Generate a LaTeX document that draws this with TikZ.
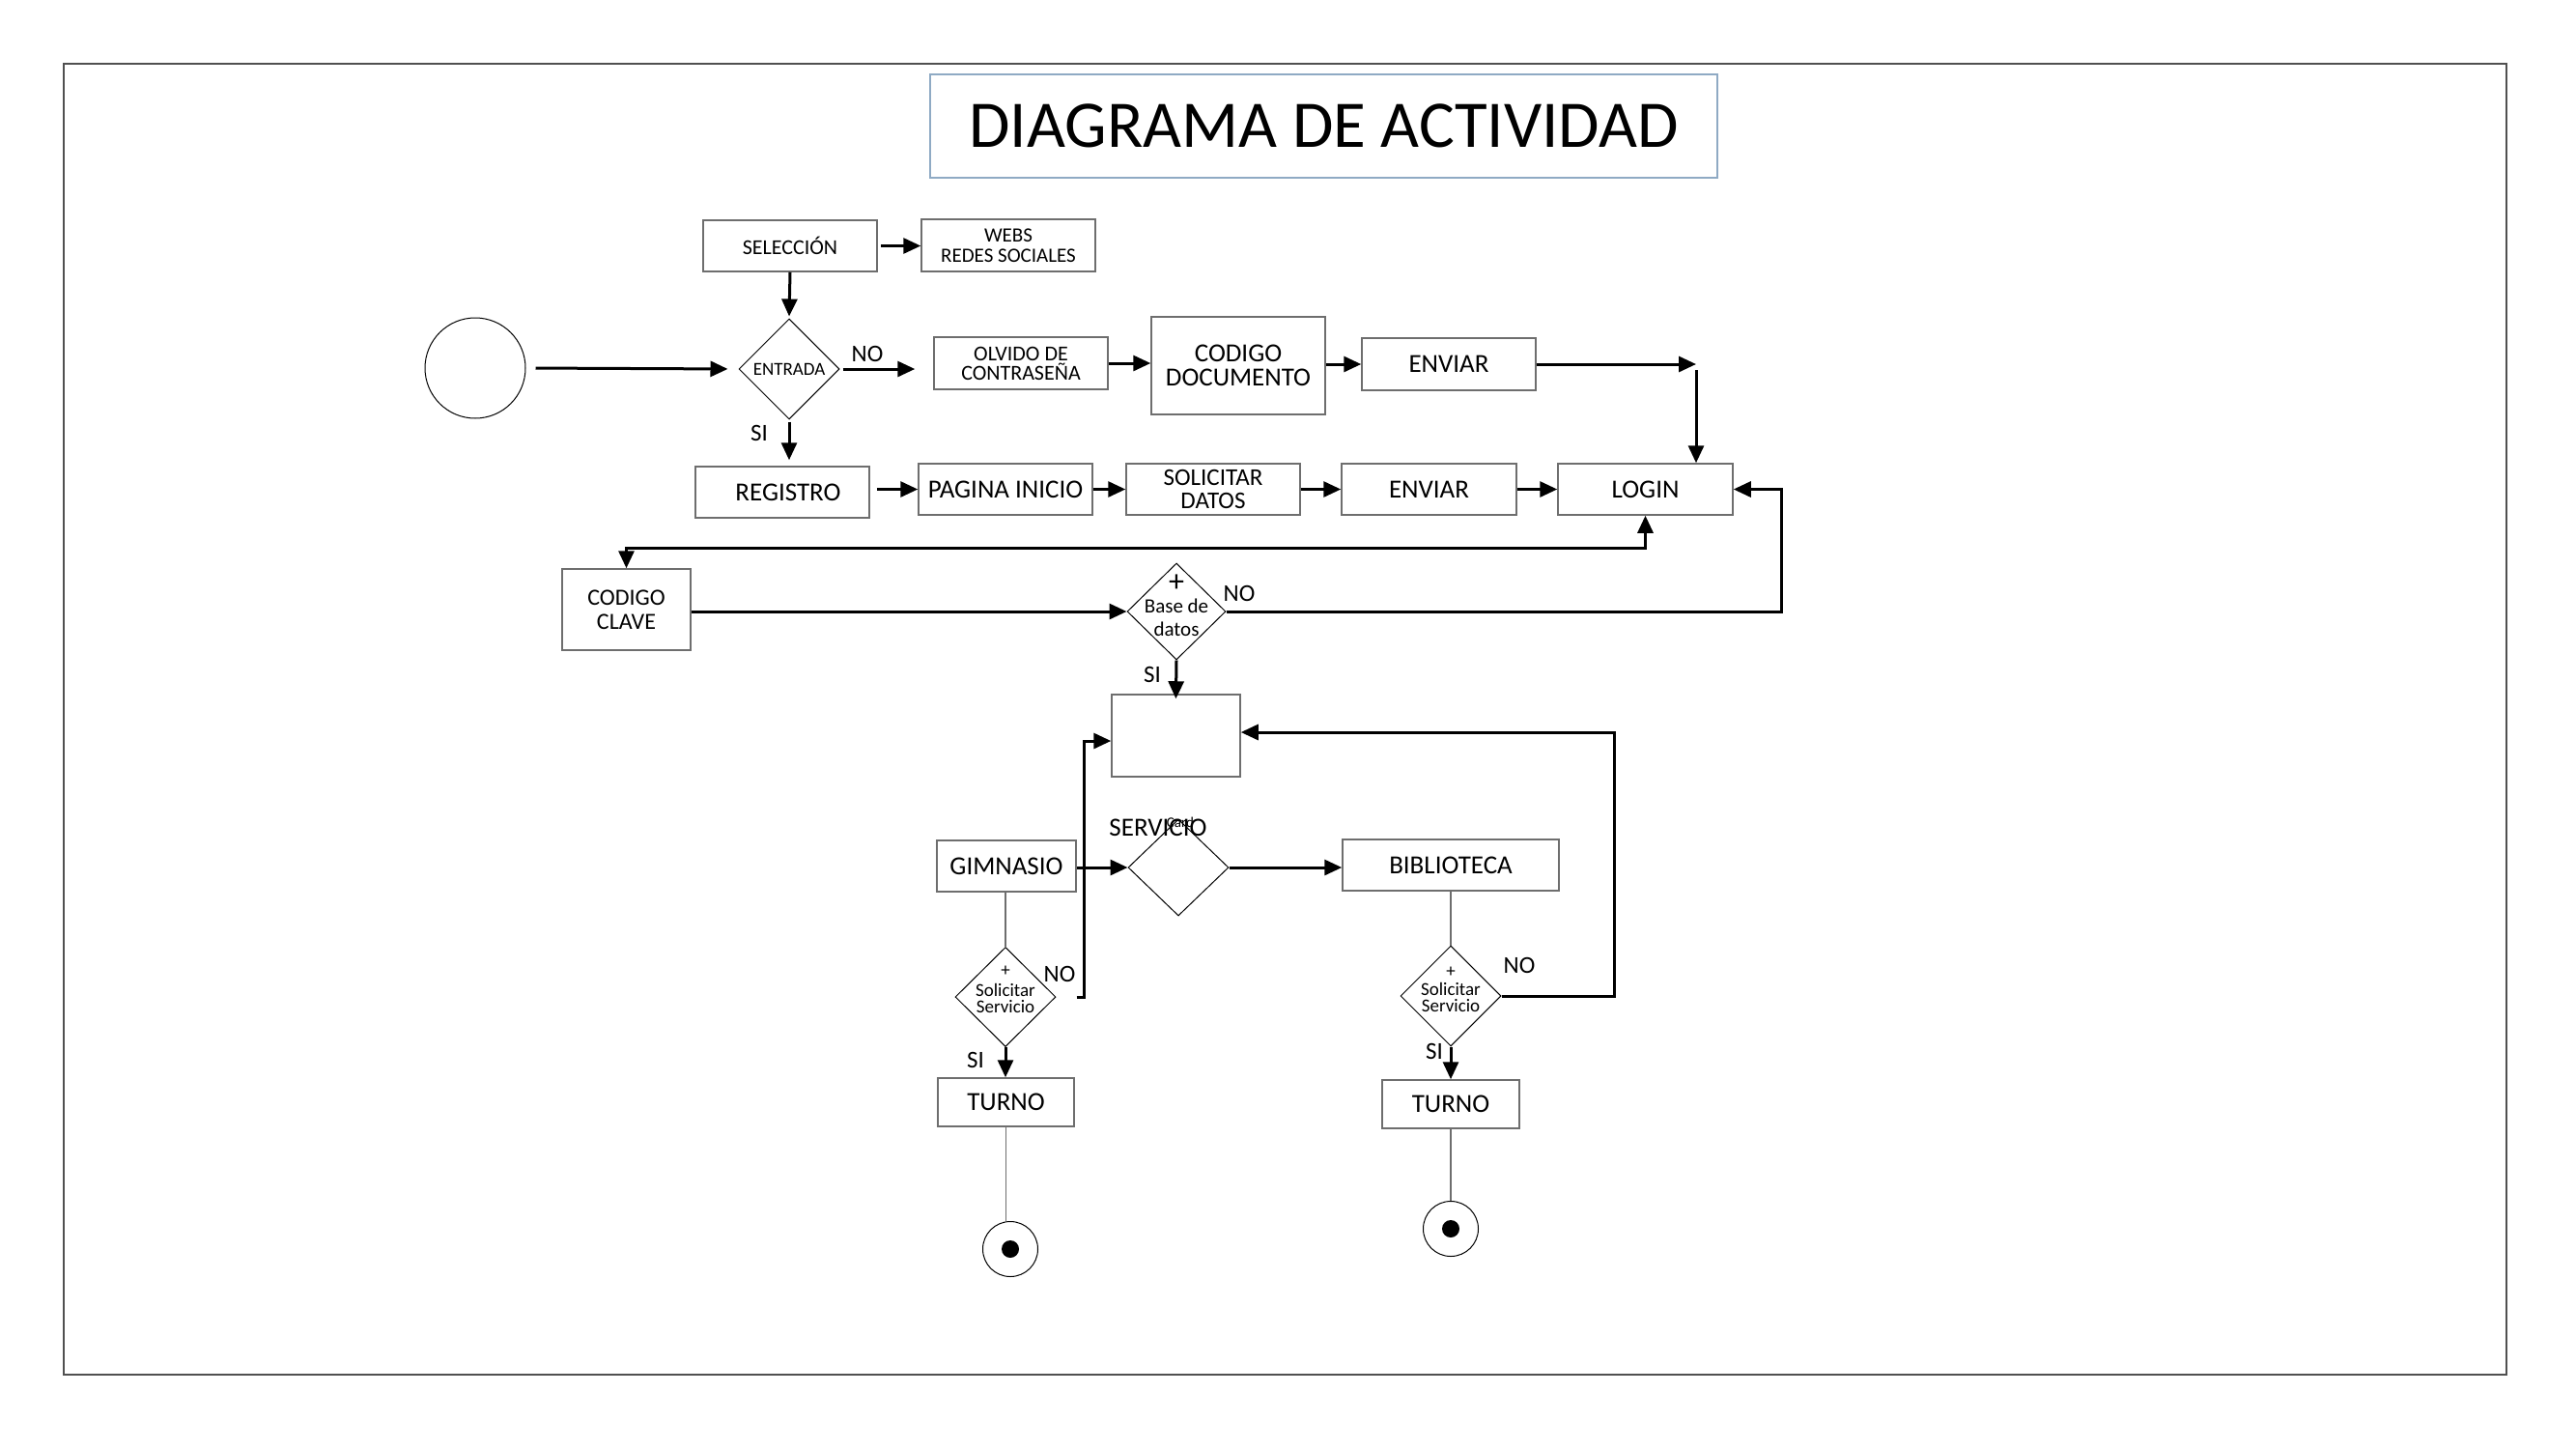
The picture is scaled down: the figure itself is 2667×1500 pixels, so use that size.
\documentclass[tikz,border=0pt]{standalone}
\usepackage{fontspec}
\setmainfont{Carlito}
\usetikzlibrary{arrows.meta,shapes.geometric,calc}
\definecolor{boxgray}{HTML}{6E6E6E}
\definecolor{framegray}{HTML}{505050}
\definecolor{titleblue}{HTML}{8FAAC4}
\begin{document}
\begin{tikzpicture}[x=1pt,y=-1pt,
 box/.style={draw=boxgray,line width=1.5pt,fill=white,inner sep=0pt,align=center,font=\fontsize{27}{25}\selectfont},
 dia/.style={diamond,draw=black,line width=1pt,inner sep=0pt,fill=white},
 arr/.style={line width=3pt,-{Triangle[length=18pt,width=16pt]}},
 conn/.style={draw=boxgray,line width=1.5pt},
 lbl/.style={inner sep=0pt,font=\fontsize{25}{25}\selectfont},
 dtxt/.style={inner sep=0pt,align=center,font=\fontsize{19}{17}\selectfont},
]
\fill[white] (0,0) rectangle (2667,1500);
\useasboundingbox (0,0) rectangle (2667,1500);
\draw[framegray,line width=1.5pt] (66,66) rectangle (2595,1423);

% title
\node[draw=titleblue,line width=1.5pt,minimum width=815pt,minimum height=107pt,inner sep=0pt,
      font=\fontsize{69}{69}\selectfont] (title) at (1370.5,130.5) {DIAGRAMA DE ACTIVIDAD};

% start
\node[circle,draw=black,line width=1pt,minimum size=104pt,inner sep=0pt] (start) at (492,381) {};

% top part
\node[box,minimum width=180pt,minimum height=53pt,font=\fontsize{22}{21}\selectfont] (sel) at (818,254.5) {SELECCIÓN};
\node[box,minimum width=180pt,minimum height=54pt,font=\fontsize{21}{21}\selectfont] (webs) at (1044,254) {WEBS\\REDES SOCIALES};
\node[dia,minimum width=104pt,minimum height=104pt,font=\fontsize{19}{19}\selectfont] (entrada) at (817,382) {ENTRADA};
\node[box,minimum width=180pt,minimum height=54pt,font=\fontsize{22}{20}\selectfont] (olvido) at (1057,376) {OLVIDO DE\\CONTRASEÑA};
\node[box,minimum width=180pt,minimum height=101pt] (coddoc) at (1282,378.5) {CODIGO\\DOCUMENTO};
\node[box,minimum width=180pt,minimum height=54pt] (env1) at (1500,377) {ENVIAR};
\coordinate (corner) at (1756,377);

% second row
\node[box,minimum width=180pt,minimum height=53pt,text width=172pt] (reg) at (810,509.5) {\hspace*{12pt}REGISTRO};
\node[box,minimum width=180pt,minimum height=53pt] (pag) at (1041,506.5) {PAGINA INICIO};
\node[box,minimum width=180pt,minimum height=53pt,font=\fontsize{25}{24}\selectfont] (sol) at (1256,506.5) {SOLICITAR\\DATOS};
\node[box,minimum width=181pt,minimum height=53pt] (env2) at (1479.5,506.5) {ENVIAR};
\node[box,minimum width=181pt,minimum height=53pt] (login) at (1703.5,506.5) {LOGIN};

% third row
\node[box,minimum width=133pt,minimum height=84pt,font=\fontsize{24}{25}\selectfont] (cclave) at (648.5,631) {CODIGO\\CLAVE};
\node[dia,minimum width=102pt,minimum height=100pt] (bd) at (1218,633) {};
\node[inner sep=0pt,font=\fontsize{32}{32}\selectfont] (bdplus) at (1218,604) {+};
\node[inner sep=0pt,align=center,font=\fontsize{21}{24}\selectfont] (bdtxt) at (1218,639) {Base de\\datos};

\node[box,minimum width=133pt,minimum height=85pt] (empty) at (1217.5,761.5) {};

% services
\node[box,minimum width=144pt,minimum height=53pt] (gim) at (1042,896.5) {GIMNASIO};
\node[dia,minimum width=104pt,minimum height=100pt] (serv) at (1220,898) {};
\node[box,minimum width=224pt,minimum height=53pt] (bib) at (1502,895.5) {BIBLIOTECA};

\node[dia,minimum width=104pt,minimum height=103pt] (sd1) at (1041,1032) {};
\node[dtxt] (sd1p) at (1041,1005) {+};
\node[dtxt] (sd1t) at (1041,1033) {Solicitar\\Servicio};
\node[dia,minimum width=104pt,minimum height=104pt] (sd2) at (1502,1031) {};
\node[dtxt] (sd2p) at (1502,1006) {+};
\node[dtxt] (sd2t) at (1502,1032) {Solicitar\\Servicio};

\node[box,minimum width=141pt,minimum height=50pt] (turno1) at (1041.5,1141) {TURNO};
\node[box,minimum width=142pt,minimum height=50pt] (turno2) at (1502,1143) {TURNO};

\node[circle,draw=black,line width=1pt,minimum size=57pt,inner sep=0pt] (end1) at (1046,1293) {};
\node[circle,fill=black,minimum size=18pt,inner sep=0pt] (end1d) at (end1) {};
\node[circle,draw=black,line width=1pt,minimum size=57pt,inner sep=0pt] (end2) at (1502,1272) {};
\node[circle,fill=black,minimum size=18pt,inner sep=0pt] (end2d) at (end2) {};

% labels
\node[lbl] (no1) at (898,366) {NO};
\node[lbl] (si1) at (786,448) {SI};
\node[lbl] (no2) at (1283,614) {NO};
\node[lbl] (si2) at (1193,698) {SI};
\node[lbl] (no3) at (1097,1008) {NO};
\node[lbl] (si3) at (1010,1097) {SI};
\node[lbl] (no4) at (1573,999) {NO};
\node[lbl] (si4) at (1485,1088) {SI};
\node[inner sep=0pt,font=\fontsize{15}{15}\selectfont] (card) at (1222,851) {Card};
\node[inner sep=0pt,font=\fontsize{27}{27}\selectfont] (servlbl) at (1199,857) {SERVICIO};

% connectors
\draw[arr,shorten <=10pt,shorten >=11pt] (start.east) -- (entrada.west);
\draw[arr,shorten >=2pt] (sel.south) -- (entrada.north);
\draw[arr,shorten <=3pt] (sel.east) -- (webs.west |- sel.east);
\draw[arr,shorten <=3pt,shorten >=19pt] (entrada.east) -- (entrada.east -| olvido.west);
\draw[arr] (olvido.east) -- (olvido.east -| coddoc.west);
\draw[arr] (coddoc.east |- env1.west) -- (env1.west);
\draw[arr] (env1.east) -- (corner);
\draw[arr] ([yshift=-6pt]corner) -- (corner |- login.north);
\draw[arr,shorten <=2pt,shorten >=6pt] (entrada.south) -- (entrada.south |- reg.north);
\draw[arr,shorten <=7pt] (reg.east |- pag.west) -- (pag.west);
\draw[arr] (pag.east) -- (sol.west);
\draw[arr] (sol.east) -- (env2.west);
\draw[arr] (env2.east) -- (login.west |- env2.east);
\draw[arr] (bd.east) -| ([xshift=50pt]login.east) -- (login.east);
\draw[line width=3pt,{Triangle[length=18pt,width=16pt]}-{Triangle[length=18pt,width=16pt]}]
   (login.south) -- ++(0,34) -| (cclave.north);
\draw[arr] (cclave.east |- bd.west) -- (bd.west);
\draw[arr,shorten >=-5pt] (bd.south) -- (empty.north);
\draw[arr] (gim.east |- serv.west) -- (serv.west);
\draw[arr] (serv.east) -- (bib.west |- serv.east);
\draw[conn] (gim.south -| sd1.north) -- (sd1.north);
\draw[arr] (sd1.south) -- (turno1.north -| sd1.south);
\draw[conn] (turno1.south) -- (turno1.south |- end1.north);
\draw[arr] ([xshift=21pt]sd1.east) -| ([xshift=-28pt,yshift=-5.5pt]empty.west) -- ([yshift=-5.5pt]empty.west);
\draw[arr] (sd2.east) -| ([xshift=387pt,yshift=3.5pt]empty.east) -- ([yshift=3.5pt]empty.east);
\draw[conn] (bib.south) -- (sd2.north);
\draw[arr] (sd2.south) -- (turno2.north);
\draw[conn] (turno2.south) -- (end2.north);
\end{tikzpicture}
\end{document}
